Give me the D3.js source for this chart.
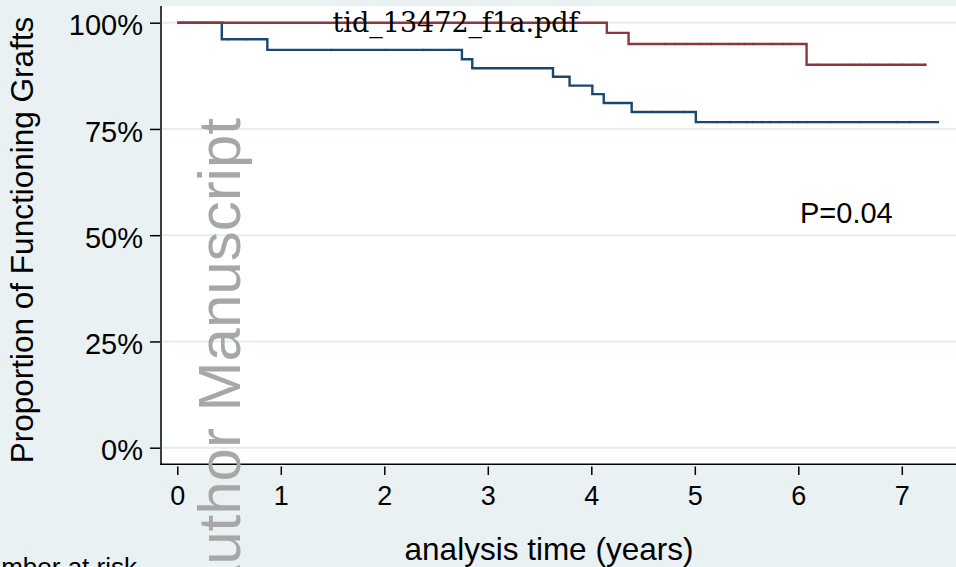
<!DOCTYPE html>
<html>
<head>
<meta charset="utf-8">
<script src="https://cdn.jsdelivr.net/npm/d3@7"></script>
<style>
  body { margin: 0; background: #e9f1f3; }
  svg { display: block; }
  text { font-family: "Liberation Sans", Arial, sans-serif; fill: #000; }
</style>
</head>
<body>
<div id="chart"></div>
<script>
// values
var timeTicks = [0, 1, 2, 3, 4, 5, 6, 7];
var pctTicks = [0, 25, 50, 75, 100];

// group 1 (navy)
var navyTimes = [0, 0.43, 0.87, 2.75, 2.85, 3.63, 3.79, 4.01, 4.12, 4.39, 5.01, 7.36];
var navySurv = [100, 96.1, 93.6, 91.4, 89.3, 87.3, 85.2, 83.2, 81.1, 79.0, 76.6, 76.6];
var navyCensor = [0.49, 0.68, 1.49, 2.01, 2.38, 4.58, 4.68, 4.89, 5.21, 5.34, 5.50, 5.56, 5.65, 5.73, 5.82, 5.95, 6.0, 6.08, 6.31, 6.60, 6.95, 7.08];

// group 2 (maroon)
var maroonTimes = [0, 4.15, 4.36, 6.08, 7.24];
var maroonSurv = [100, 97.6, 95.0, 90.1, 90.1];
var maroonCensor = [0.05, 0.2, 0.45, 0.7, 4.71, 4.81, 4.92, 5.05, 5.16, 5.34, 5.42, 5.48, 5.56, 5.74, 5.85, 5.92, 6.18, 6.42, 6.50, 6.55, 6.60, 6.64, 6.69, 6.77, 6.88, 7.01, 7.11, 7.22];

var W = 956, H = 567;
var svg = d3.select("#chart").append("svg").attr("width", W).attr("height", H);

var x = d3.scaleLinear().domain([0, 7]).range([177.3, 901.8]);
var y = d3.scaleLinear().domain([0, 100]).range([447.7, 22.7]);

svg.append("rect").attr("width", W).attr("height", H).attr("fill", "#e9f1f3");
// plot region
svg.append("rect").attr("x", 161).attr("y", 6).attr("width", W - 161).attr("height", 458.3).attr("fill", "#fff");

// grid
svg.append("g").selectAll("line").data(pctTicks).join("line")
  .attr("x1", 162).attr("x2", W)
  .attr("y1", d => y(d)).attr("y2", d => y(d))
  .attr("stroke", "#e3edf0").attr("stroke-width", 2);

// step curves
var stepLine = d3.line().curve(d3.curveStepAfter).x(d => x(d[0])).y(d => y(d[1]));
function stepValue(times, surv, t) {
  var v = surv[0];
  for (var i = 0; i < times.length; i++) if (times[i] <= t) v = surv[i];
  return v;
}
function drawGroup(times, surv, censor, color) {
  svg.append("path")
    .datum(d3.zip(times, surv))
    .attr("d", stepLine)
    .attr("fill", "none").attr("stroke", color).attr("stroke-width", 2.4);
  // censoring marks, barely visible in the original
  svg.append("g").selectAll("line").data(censor).join("line")
    .attr("x1", d => x(d)).attr("x2", d => x(d))
    .attr("y1", d => y(stepValue(times, surv, d)) - 1.5)
    .attr("y2", d => y(stepValue(times, surv, d)) + 1.5)
    .attr("stroke", color).attr("stroke-width", 1).attr("opacity", 0.45);
}
drawGroup(navyTimes, navySurv, navyCensor, "#1a476f");
drawGroup(maroonTimes, maroonSurv, maroonCensor, "#90353b");

// axes frame
svg.append("line").attr("x1", 161).attr("x2", 161).attr("y1", 6).attr("y2", 465)
  .attr("stroke", "#000").attr("stroke-width", 1.5);
svg.append("line").attr("x1", 160.3).attr("x2", W).attr("y1", 464.3).attr("y2", 464.3)
  .attr("stroke", "#000").attr("stroke-width", 1.5);

var yAxis = svg.append("g").attr("transform", "translate(160,0)")
  .call(d3.axisLeft(y).tickValues(pctTicks).tickSize(10).tickPadding(7).tickFormat(d => d + "%"));
yAxis.select(".domain").remove();
yAxis.selectAll(".tick line").attr("stroke", "#000").attr("stroke-width", 1.5);
yAxis.selectAll(".tick text").attr("font-size", 29).attr("dy", "0.42em")
  .attr("font-family", "Liberation Sans, Arial, sans-serif");

var xAxis = svg.append("g").attr("transform", "translate(0,466.5)")
  .call(d3.axisBottom(x).tickValues(timeTicks).tickSize(8.5).tickPadding(11).tickFormat(d3.format("d")));
xAxis.select(".domain").remove();
xAxis.selectAll(".tick line").attr("stroke", "#000").attr("stroke-width", 1.5);
xAxis.selectAll(".tick text").attr("font-size", 27)
  .attr("font-family", "Liberation Sans, Arial, sans-serif");

// titles
svg.append("text")
  .attr("transform", "translate(33,240) rotate(-90)")
  .attr("text-anchor", "middle").attr("font-size", 31.5)
  .text("Proportion of Functioning Grafts");

svg.append("text")
  .attr("x", 549).attr("y", 560)
  .attr("text-anchor", "middle").attr("font-size", 31.5)
  .text("analysis time (years)");

svg.append("text")
  .attr("x", 800).attr("y", 222.7).attr("font-size", 29)
  .text("P=0.04");

svg.append("text")
  .attr("x", 137).attr("y", 575.5).attr("text-anchor", "end").attr("font-size", 26)
  .text("Number at risk");

// watermark
svg.append("text")
  .attr("transform", "translate(240,118) rotate(-90)")
  .attr("text-anchor", "end").attr("font-size", 60)
  .style("fill", "#a6a8a8")
  .text("Author Manuscript");

// file label
svg.append("text")
  .attr("x", 455.5).attr("y", 32)
  .attr("text-anchor", "middle").attr("font-size", 27)
  .style("font-family", "'DejaVu Serif', serif")
  .text("tid_13472_f1a.pdf");
</script>
</body>
</html>
